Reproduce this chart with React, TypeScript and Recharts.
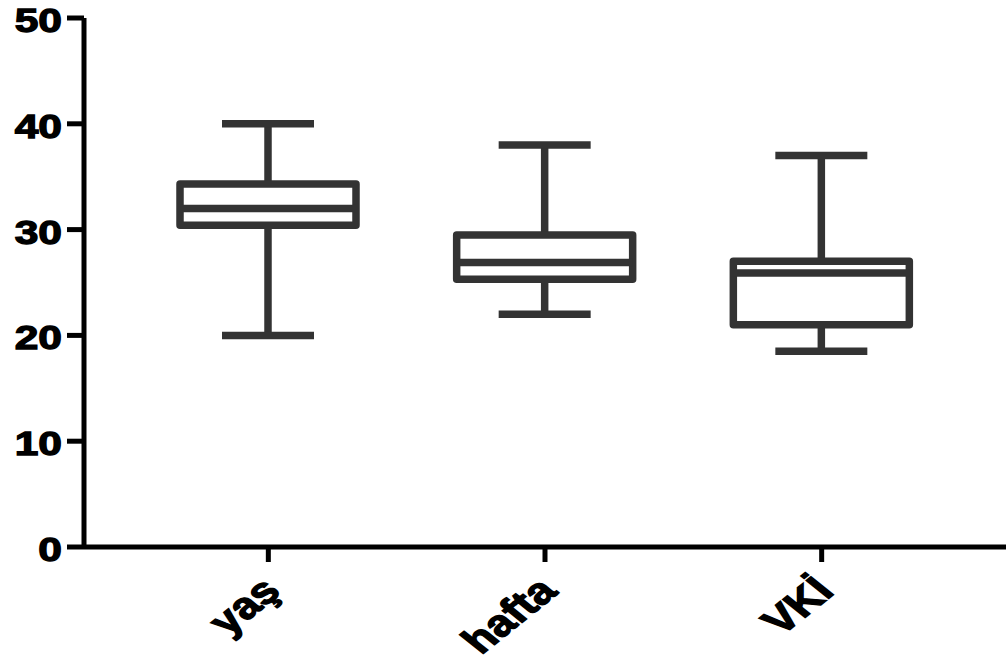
import React from "react";
import { Bar, ComposedChart, XAxis, YAxis } from "recharts";

const categories = ["yaş", "hafta", "VKİ"];
const mins = [20, 22, 18.5];
const q1s = [30.4, 25.3, 21];
const medians = [32, 26.9, 25.9];
const q3s = [34.3, 29.5, 27];
const maxs = [40, 38, 37];
const yTicks = [0, 10, 20, 30, 40, 50];

const data = categories.map((name, i) => ({
  name,
  range: [mins[i], maxs[i]],
  min: mins[i],
  q1: q1s[i],
  median: medians[i],
  q3: q3s[i],
  max: maxs[i],
}));

const BOX = "#333333";
const FONT = "'Liberation Sans', Arial, sans-serif";

// box + whiskers drawn inside the bar's own [min, max] span
const BoxShape = (props: any) => {
  const { x, y, width, height, payload } = props;
  const { min, max, q1, median, q3 } = payload;
  const toY = (v: number) => y + ((max - v) / (max - min)) * height;
  const cx = x + width / 2;
  const cap = 46;
  const sw = 7.5;
  return (
    <g stroke={BOX} strokeWidth={sw} fill="none">
      <line x1={cx} x2={cx} y1={toY(max)} y2={toY(q3)} />
      <line x1={cx} x2={cx} y1={toY(q1)} y2={toY(min)} />
      <line x1={cx - cap} x2={cx + cap} y1={toY(max)} y2={toY(max)} />
      <line x1={cx - cap} x2={cx + cap} y1={toY(min)} y2={toY(min)} />
      <rect
        x={x}
        y={toY(q3)}
        width={width}
        height={toY(q1) - toY(q3)}
        fill="#fff"
        strokeLinejoin="round"
      />
      <line x1={x} x2={x + width} y1={toY(median)} y2={toY(median)} />
    </g>
  );
};

const YTick = (props: any) => {
  const { x, y, payload } = props;
  return (
    <g transform={`translate(${x},${y}) scale(1.25,1)`}>
      <text
        x={0}
        y={0}
        dy={14}
        textAnchor="end"
        fontFamily={FONT}
        fontWeight="bold"
        fontSize={34}
        fill="#000"
        stroke="#000"
        strokeWidth={1.3}
      >
        {payload.value}
      </text>
    </g>
  );
};

const XTick = (props: any) => {
  const { x, y, payload } = props;
  return (
    <g transform={`translate(${x + 14},${y + 31}) scale(1.25,1) rotate(-45)`}>
      <text
        x={0}
        y={0}
        textAnchor="end"
        fontFamily={FONT}
        fontWeight="bold"
        fontSize={37}
        fill="#000"
        stroke="#000"
        strokeWidth={1.3}
      >
        {payload.value}
      </text>
    </g>
  );
};

export default function App() {
  return (
    <div style={{ position: "absolute", left: 0, top: 0, background: "#fff" }}>
      <ComposedChart width={1006} height={664} data={data} margin={{ top: 18, right: 0, bottom: 0, left: 0 }}>
        <XAxis
          dataKey="name"
          height={117}
          padding={{ left: 46, right: 46 }}
          axisLine={{ stroke: "#000", strokeWidth: 5 }}
          tickLine={{ stroke: "#000", strokeWidth: 5 }}
          tickSize={15}
          tickMargin={0}
          tick={<XTick />}
          interval={0}
        />
        <YAxis
          width={84}
          domain={[0, 50]}
          ticks={yTicks}
          axisLine={{ stroke: "#000", strokeWidth: 5 }}
          tickLine={{ stroke: "#000", strokeWidth: 5 }}
          tickSize={17}
          tickMargin={5}
          tick={<YTick />}
        />
        <Bar dataKey="range" barSize={176} shape={<BoxShape />} isAnimationActive={false} />
      </ComposedChart>
    </div>
  );
}
